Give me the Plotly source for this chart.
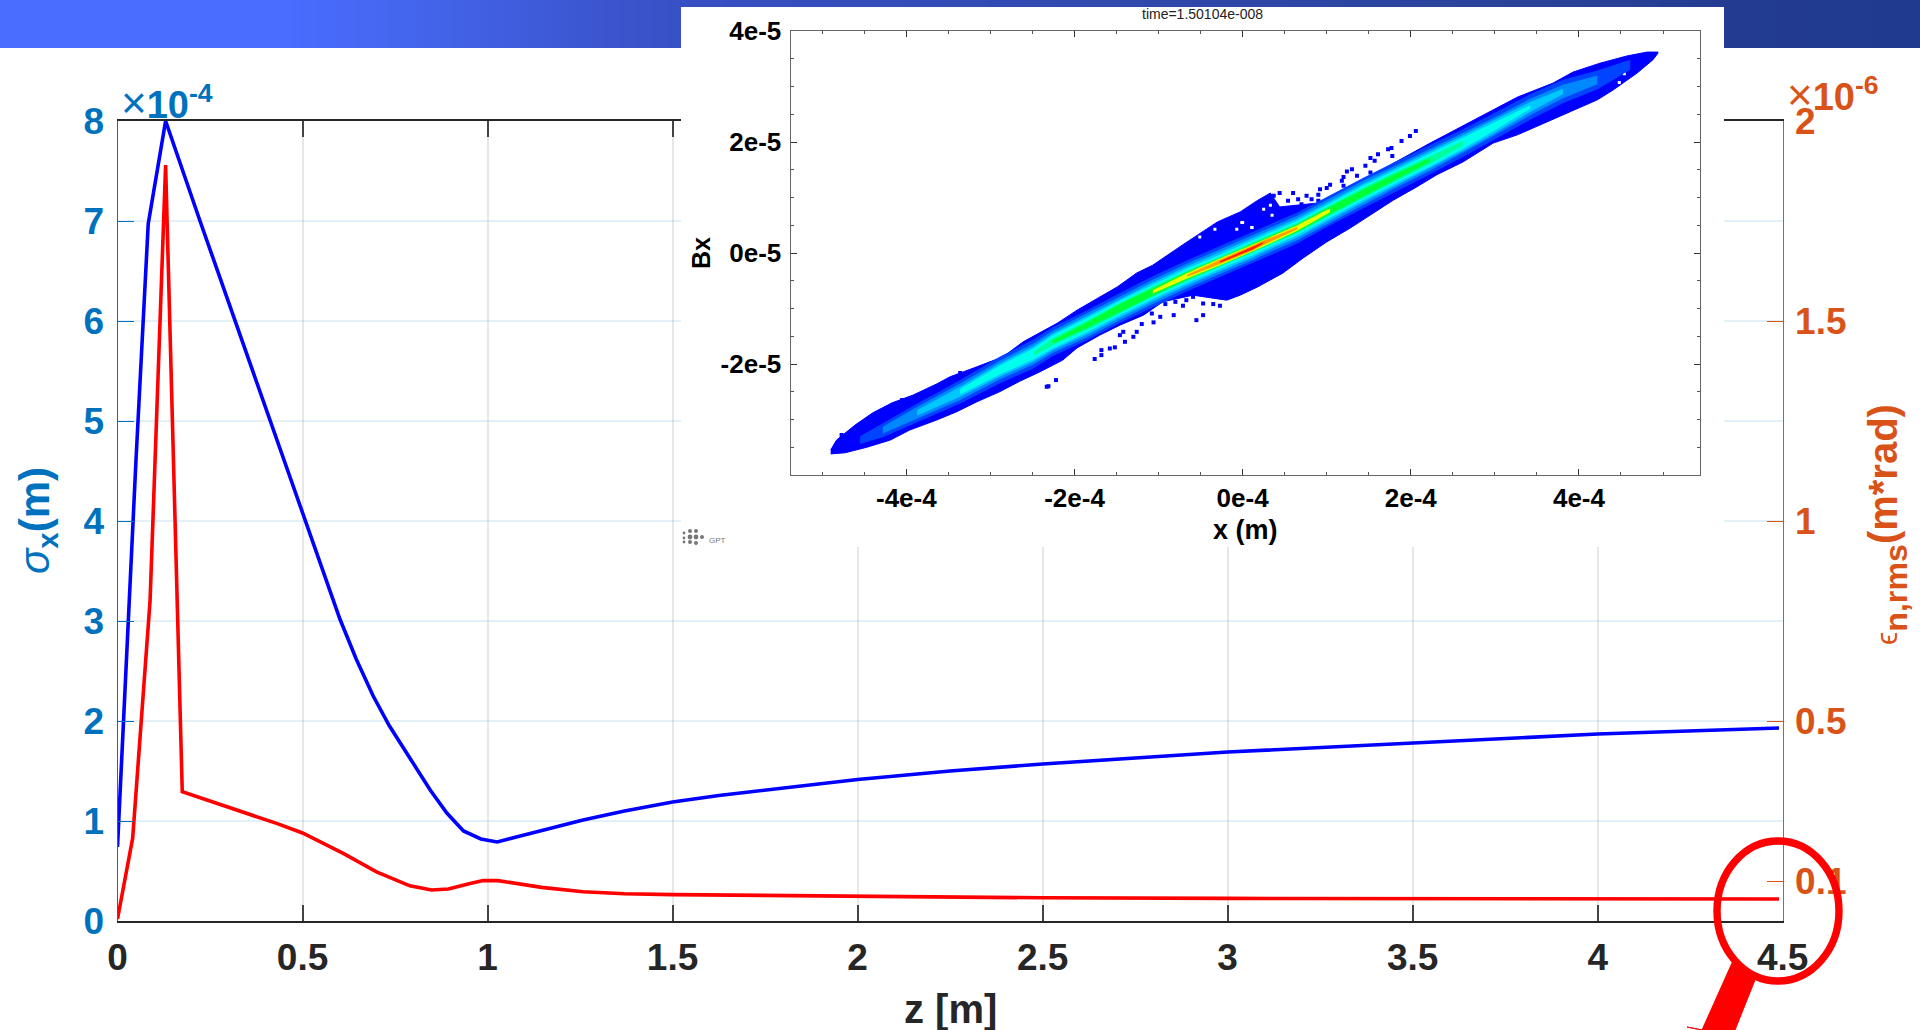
import plotly.graph_objects as go

W, H = 1920, 1030
BLUE_AX, ORANGE_AX, DARK = "#0072BD", "#D95319", "#262626"
FONT = "Liberation Sans"

# ---- main chart data ----
z_sigma = [0, .016, .029, .041, .05, .083, .13, .223, .313, .448, .507, .556, .601, .645, .691, .735, .80, .845, .89,
           .935, .982, 1.026, 1.115, 1.146, 1.2, 1.258, 1.37, 1.5, 1.625, 1.75, 1.875, 2.0, 2.25, 2.5, 3.0, 3.5, 4.0, 4.49]
sigma_x = [.74, 2.0, 3.0, 4.0, 4.61, 6.97, 8.0, 7.0, 6.05, 4.61, 4.0, 3.47, 3.02, 2.62, 2.25, 1.95, 1.57, 1.31, 1.08,
           .90, .82, .79, .875, .905, .96, 1.01, 1.10, 1.19, 1.255, 1.31, 1.365, 1.415, 1.50, 1.57, 1.69, 1.78, 1.87, 1.93]
z_emit = [0, .041, .088, .13, .175, .25, .34, .43, .5, .61, .70, .79, .849, .894, .953, .988, 1.028, 1.115, 1.146,
          1.258, 1.37, 1.5, 2.0, 2.5, 3.0, 4.0, 4.49]
emit_n = [.005, .207, .80, 1.89, .323, .30, .273, .244, .22, .169, .123, .088, .0775, .08, .094, .101, .101, .088, .084,
          .073, .068, .066, .061, .058, .0565, .055, .055]

x_ticks = [0, .5, 1, 1.5, 2, 2.5, 3, 3.5, 4, 4.5]
x_labels = ["0", "0.5", "1", "1.5", "2", "2.5", "3", "3.5", "4", "4.5"]
left_ticks = [0, 1, 2, 3, 4, 5, 6, 7, 8]
right_ticks = [.1, .5, 1, 1.5, 2]
right_labels = ["0.1", "0.5", "1", "1.5", "2"]

# ---- inset: phase-space density, x in 1e-4 m, Bx in 1e-5 ----
outer_up_x = [-4.90, -4.83, -4.61, -4.40, -4.17, -3.92, -3.64, -3.48, -3.16, -2.85, -2.61, -2.41, -2.20, -1.97, -1.70,
              -1.49, -1.26, -1.07, -.72, -.30, -.03, .18, .33, .44, .89, 1.19, 1.52, 1.76, 2.23, 2.59, 2.91, 3.27,
              3.69, 3.93, 4.25, 4.57, 4.81, 4.94]
outer_up_y = [-3.55, -3.37, -3.10, -2.88, -2.70, -2.56, -2.36, -2.23, -2.05, -1.87, -1.60, -1.44, -1.26, -1.03, -.79,
              -.61, -.36, -.22, .14, .56, .74, .95, 1.08, .83, .90, 1.14, 1.37, 1.59, 1.98, 2.27, 2.52, 2.81,
              3.06, 3.26, 3.42, 3.55, 3.62, 3.62]
outer_lo_x = [-4.90, -4.73, -4.47, -4.19, -3.96, -3.64, -3.40, -3.16, -2.89, -2.65, -2.41, -2.14, -1.97, -1.70, -1.46,
              -1.18, -.95, -.59, -.19, -.03, .18, .33, .48, .72, 1.00, 1.28, 1.52, 1.79, 2.07, 2.31, 2.62, 2.98, 3.27,
              3.54, 3.81, 4.22, 4.41, 4.69, 4.88, 4.94]
outer_lo_y = [-3.62, -3.60, -3.50, -3.37, -3.19, -3.01, -2.86, -2.68, -2.50, -2.31, -2.14, -1.93, -1.71, -1.48, -1.30,
              -1.12, -.88, -.76, -.85, -.76, -.61, -.49, -.36, -.09, .20, .45, .68, .95, 1.19, 1.41, 1.64, 1.98, 2.13,
              2.31, 2.49, 2.76, 2.94, 3.24, 3.48, 3.60]

ridge_x = [-4.87, -4.55, -4.28, -3.87, -3.60, -3.36, -2.89, -2.49, -2.26, -1.85, -1.46, -1.07, -.66, -.27, .12, .24,
           .65, 1.04, 1.43, 1.84, 2.23, 2.62, 3.03, 3.42, 3.81, 4.22, 4.61, 4.85]
ridge_y = [-3.55, -3.37, -3.19, -2.88, -2.68, -2.50, -2.11, -1.82, -1.60, -1.30, -.99, -.70, -.41, -.16, .09, .18,
           .45, .77, 1.08, 1.39, 1.68, 1.98, 2.31, 2.63, 2.91, 3.12, 3.39, 3.57]
band_1 = [0, .07, .13, .17, .19, .21, .24, .26, .26, .27, .27, .28, .28, .28, .28, .28, .28, .27, .27, .27, .26, .25, .24, .23, .21, .17, .09, 0]
band_2 = [0, 0, .06, .11, .13, .15, .17, .19, .20, .22, .22, .22, .22, .22, .22, .22, .22, .22, .22, .20, .20, .18, .16, .15, .12, .08, 0, 0]
band_3 = [0, 0, 0, .05, .07, .09, .12, .14, .15, .17, .17, .17, .17, .17, .17, .17, .17, .17, .17, .16, .15, .14, .12, .09, .05, 0, 0, 0]
band_4 = [0, 0, 0, 0, 0, .05, .08, .10, .12, .13, .13, .13, .13, .13, .13, .13, .13, .13, .13, .12, .12, .10, .07, .03, 0, 0, 0, 0]
band_5 = [0, 0, 0, 0, 0, 0, 0, .03, .06, .08, .09, .09, .09, .09, .09, .09, .09, .09, .09, .08, .07, .04, 0, 0, 0, 0, 0, 0]
band_6 = [0, 0, 0, 0, 0, 0, 0, 0, .03, .05, .07, .07, .07, .07, .07, .07, .07, .07, .06, .05, .03, 0, 0, 0, 0, 0, 0, 0]
band_7 = [0, 0, 0, 0, 0, 0, 0, 0, 0, 0, 0, .03, .05, .06, .06, .06, .05, .035, 0, 0, 0, 0, 0, 0, 0, 0, 0, 0]
band_8 = [0, 0, 0, 0, 0, 0, 0, 0, 0, 0, 0, 0, .02, .04, .045, .04, .02, 0, 0, 0, 0, 0, 0, 0, 0, 0, 0, 0]
band_9 = [0, 0, 0, 0, 0, 0, 0, 0, 0, 0, 0, 0, 0, .015, .025, .015, 0, 0, 0, 0, 0, 0, 0, 0, 0, 0, 0, 0]
bands = [band_1, band_2, band_3, band_4, band_5, band_6, band_7, band_8, band_9]
band_colors = ["#0044ff", "#0088ff", "#00c8ff", "#00ffee", "#00ff99", "#00ff33", "#e8ff00", "#ffa000", "#ff2000"]

stray_x = [2.06, 1.99, 1.89, 1.77, 1.73, 1.61, 1.52, 1.57, 1.78, 1.46, 1.30, 1.24, 1.52, 1.36, 1.20, 1.18, 1.04, 1.00, 1.20, .92,
           .90, .76, .60, .44, .37, .54, .66, .82, .70, .90,
           -1.76, -1.68, -1.58, -1.68, -1.52, -1.40, -1.30, -1.42, -1.26, -1.46, -1.20, -1.06, -1.08, -.98, -.82, -.92, -.80,
           -.67, -.71, -.59, -.47, -.35, -.37, -.27, -.47, -.55, -.33, -.15, -.06, -2.31, -2.22, -4.77, -2.33, -4.05, -3.36]
stray_y = [2.20, 2.11, 2.02, 1.89, 1.87, 1.78, 1.71, 1.66, 1.75, 1.57, 1.51, 1.47, 1.45, 1.39, 1.37, 1.30, 1.23, 1.17, 1.21, 1.15,
           1.05, 1.03, 1.08, 1.08, 1.03, .94, .97, .97, .88, .94,
           -1.91, -1.75, -1.72, -1.84, -1.70, -1.60, -1.51, -1.42, -1.42, -1.48, -1.28, -1.25, -1.09, -1.15, -1.12, -.92, -.88,
           -.85, -.95, -.79, -.91, -.92, -.76, -.95, -1.12, -1.21, -.61, -.65, -.56, -2.40, -2.29, -3.28, -2.41, -2.65, -2.16]
hole_x = [.33, .35, -.01, .11, -.07, .25, 0, .11, -.33, -.51, 4.54, 4.48]
hole_y = [.86, .68, .55, .46, .43, .79, .55, .46, .43, .29, 3.23, 3.07]

inset_x_ticks = [-4, -2, 0, 2, 4]
inset_x_labels = ["-4e-4", "-2e-4", "0e-4", "2e-4", "4e-4"]
inset_y_ticks = [-2, 0, 2, 4]
inset_y_labels = ["-2e-5", "0e-5", "2e-5", "4e-5"]

# ---- slide header gradient ----
header_pos = [0, .15, .21, .31, .36, .6, .8, .9, 1]
header_col = ["#4a6cff", "#4a6cff", "#4466ee", "#3c56d0", "#3650c4", "#2f49ab", "#2a4299", "#233c92", "#1f3a8f"]


def px(x):
    return x / W


def py(y):
    return 1 - y / H


fig = go.Figure()
NOHOVER = dict(hoverinfo="skip", showlegend=False)

# main curves
fig.add_trace(go.Scatter(x=z_sigma, y=sigma_x, mode="lines", line=dict(color="#0000ff", width=3.6), xaxis="x", yaxis="y", **NOHOVER))
fig.add_trace(go.Scatter(x=z_emit, y=emit_n, mode="lines", line=dict(color="#ff0000", width=3.6), xaxis="x", yaxis="y2", **NOHOVER))

# header band
fig.add_trace(go.Heatmap(z=[[p for p in header_pos]], x=header_pos, y=[0], zsmooth="best", showscale=False, xaxis="x2", yaxis="y3",
                         colorscale=[[p, c] for p, c in zip(header_pos, header_col)], hoverinfo="skip"))
# white card behind inset
fig.add_trace(go.Heatmap(z=[[0, 0], [0, 0]], showscale=False, xaxis="x3", yaxis="y4", colorscale=[[0, "#ffffff"], [1, "#ffffff"]], hoverinfo="skip"))

# inset density
inset = dict(xaxis="x4", yaxis="y5", **NOHOVER)
fig.add_trace(go.Scatter(x=outer_up_x + outer_lo_x[::-1], y=outer_up_y + outer_lo_y[::-1], mode="lines", fill="toself",
                         fillcolor="#0000ff", line=dict(color="#0000ff", width=1), **inset))
fig.add_trace(go.Scatter(x=stray_x, y=stray_y, mode="markers", marker=dict(symbol="square", size=4, color="#0000ff"), **inset))
fig.add_trace(go.Scatter(x=hole_x, y=hole_y, mode="markers", marker=dict(symbol="square", size=3, color="#ffffff"), **inset))
for hw, col in zip(bands, band_colors):
    keep = [i for i, h in enumerate(hw) if h > 0]
    xs = [ridge_x[i] for i in keep]
    ups = [ridge_y[i] + hw[i] for i in keep]
    los = [ridge_y[i] - hw[i] for i in keep]
    fig.add_trace(go.Scatter(x=xs + xs[::-1], y=ups + los[::-1], mode="lines", fill="toself", fillcolor=col,
                             line=dict(color=col, width=0), **inset))

tickfont = dict(family=FONT, size=37, weight="bold")
INSET_FONT = dict(family=FONT, size=26, weight="bold", color="#000000")
hidden = dict(visible=False, fixedrange=True, automargin=False)

fig.update_layout(
    width=W, height=H, margin=dict(l=0, r=0, t=0, b=0, autoexpand=False), autosize=False, showlegend=False,
    paper_bgcolor="#ffffff", plot_bgcolor="#ffffff",
    xaxis=dict(domain=[px(117.5), px(1782.7)], range=[0, 4.5], anchor="y", tickmode="array", tickvals=x_ticks, ticktext=x_labels,
               tickfont=dict(color=DARK, **tickfont), ticks="inside", ticklen=16, tickwidth=1.5, tickcolor="#444444",
               showgrid=True, gridcolor="rgba(38,38,38,0.11)", gridwidth=1.5, showline=True, linecolor=DARK, linewidth=1.5,
               mirror="ticks", ticklabelstandoff=3, zeroline=False, automargin=False),
    yaxis=dict(domain=[py(921), py(121)], range=[0, 8], anchor="x", tickmode="array", tickvals=left_ticks,
               tickfont=dict(color=BLUE_AX, **tickfont), ticks="inside", ticklen=16, tickwidth=1, tickcolor=BLUE_AX,
               showgrid=True, gridcolor="rgba(0,114,189,0.11)", gridwidth=2, showline=True, linecolor=BLUE_AX, linewidth=1,
               ticklabelstandoff=5, zeroline=False, automargin=False),
    yaxis2=dict(overlaying="y", side="right", anchor="x", range=[0, 2], tickmode="array", tickvals=right_ticks, ticktext=right_labels,
                tickfont=dict(color=ORANGE_AX, **tickfont), ticks="inside", ticklen=16, tickwidth=1, tickcolor=ORANGE_AX,
                showgrid=False, showline=True, linecolor=ORANGE_AX, linewidth=1, ticklabelstandoff=4, zeroline=False, automargin=False),
    xaxis2=dict(domain=[0, 1], range=[0, 1], anchor="y3", **hidden),
    yaxis3=dict(domain=[py(48), 1], range=[-.5, .5], anchor="x2", **hidden),
    xaxis3=dict(domain=[px(681), px(1724)], anchor="y4", **hidden),
    yaxis4=dict(domain=[py(547), py(7)], anchor="x3", **hidden),
    xaxis4=dict(domain=[px(790.5), px(1700)], range=[-5.378, 5.44], anchor="y5", tickmode="array", tickvals=inset_x_ticks, ticktext=inset_x_labels,
                tickfont=INSET_FONT, ticks="inside", ticklen=6, tickwidth=1, tickcolor="#333333", showgrid=False, zeroline=False,
                showline=True, linecolor="#666666", linewidth=1, mirror="ticks", ticklabelstandoff=0, automargin=False,
                minor=dict(ticks="inside", dtick=.5, tick0=0, ticklen=3, tickcolor="#555555", showgrid=False)),
    yaxis5=dict(domain=[py(475), py(31)], range=[-4, 4], anchor="x4", tickmode="array", tickvals=inset_y_ticks, ticktext=inset_y_labels,
                tickfont=INSET_FONT, ticks="inside", ticklen=6, tickwidth=1, tickcolor="#333333", showgrid=False, zeroline=False,
                showline=True, linecolor="#666666", linewidth=1, mirror="ticks", ticklabelstandoff=3, automargin=False,
                minor=dict(ticks="inside", dtick=.5, tick0=0, ticklen=3, tickcolor="#555555", showgrid=False)),
)


def note(text, x, y, size, color, angle=0, xanchor="center", yanchor="middle", family=FONT):
    fig.add_annotation(text=text, x=px(x), y=py(y), xref="paper", yref="paper", showarrow=False, textangle=angle, xanchor=xanchor,
                       yanchor=yanchor, font=dict(family=family, size=size, color=color), align="center")


note('<span style="font-size:44px">×</span><b>10<sup>-4</sup></b>', 119, 102, 38, BLUE_AX, xanchor="left")
note('<span style="font-size:44px">×</span><b>10<sup>-6</sup></b>', 1785, 95, 38, ORANGE_AX, xanchor="left")
note("<b>z [m]</b>", 950, 1009, 40, DARK)
note("<i>σ</i><sub><b>x</b></sub><b>(m)</b>", 37, 521, 42, BLUE_AX, angle=-90)
note('<span style="font-size:30px">ϵ</span><sub><b>n,rms</b></sub><b><span style="font-size:40px">(m*rad)</span></b>', 1887, 525, 46, ORANGE_AX, angle=-90)
note("time=1.50104e-008", 1202, 14, 14, "#222222")
note("<b>x (m)</b>", 1245, 530, 27, "#000000")
note("<b>Bx</b>", 701, 253, 25, "#000000", angle=-90)
note("GPT", 707, 540, 8, "#777777", xanchor="left")

# GPT logo dots
for cx, cy, r in [(684, 533, 1.4), (690, 531, 2), (696, 531, 2), (684, 538, 1.4), (690, 537, 2.4), (696, 537, 2.4), (702, 537, 2), (684, 542, 1.4), (690, 542, 2), (696, 543, 2)]:
    fig.add_shape(type="circle", xref="paper", yref="paper", x0=px(cx - r), x1=px(cx + r), y0=py(cy - r), y1=py(cy + r),
                  fillcolor="#777777", line_width=0, layer="above")

# red magnifier annotation
fig.add_shape(type="circle", xref="paper", yref="paper", x0=px(1717), x1=px(1839), y0=py(841), y1=py(981),
              line=dict(color="#ff0000", width=7.4), layer="above")
handle = [(1732, 963), (1755, 980), (1735, 1030), (1702, 1030), (1687, 1027), (1702, 1030)]
fig.add_shape(type="path", xref="paper", yref="paper",
              path="M " + " L ".join(f"{px(a):.5f},{py(b):.5f}" for a, b in handle) + " Z",
              fillcolor="#ff0000", line=dict(color="#ff0000", width=1), layer="above")

fig.write_html("out.html", config=dict(displayModeBar=False), post_script="document.body.style.margin='0';document.body.style.overflow='hidden';")
